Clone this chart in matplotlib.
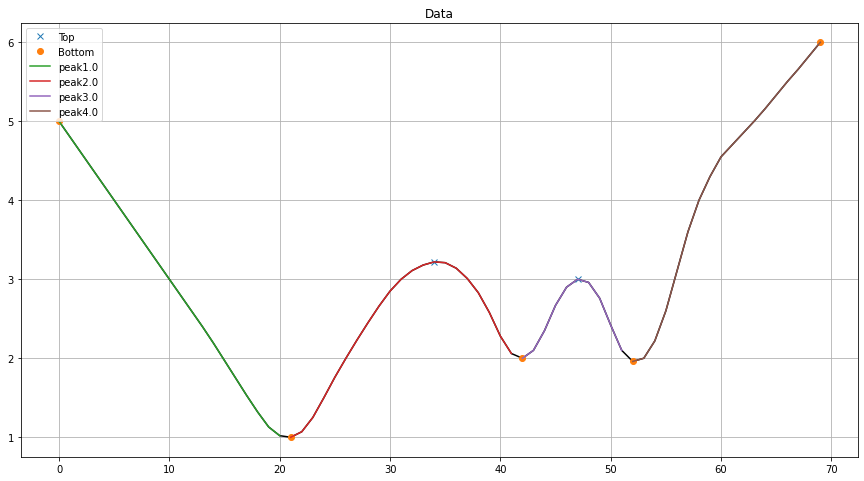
import numpy as np
import matplotlib
matplotlib.use('Agg')
import matplotlib.pyplot as plt

# serie completa
x = np.arange(0, 70)
y = [5.0, 4.8, 4.6, 4.4, 4.2, 4.0, 3.8, 3.6, 3.4, 3.2,
     3.0, 2.8, 2.6, 2.4, 2.19, 1.97, 1.75, 1.53, 1.32, 1.13,
     1.02, 1.0, 1.07, 1.25, 1.5, 1.76, 2.0, 2.23, 2.45, 2.66,
     2.85, 3.0, 3.11, 3.18, 3.22, 3.21, 3.14, 3.01, 2.83, 2.58,
     2.28, 2.06, 2.0, 2.1, 2.35, 2.67, 2.9, 3.0, 2.96, 2.76,
     2.42, 2.1, 1.96, 2.0, 2.22, 2.6, 3.1, 3.6, 4.0, 4.3,
     4.55, 4.7, 4.85, 5.0, 5.16, 5.33, 5.5, 5.66, 5.83, 6.0]
y = np.array(y)

# picos y valles
tops = [34, 47]
bottoms = [0, 21, 42, 52, 69]

# tramos de cada pico (inicio, fin)
peak_ids = [1.0, 2.0, 3.0, 4.0]
peak_start = [0, 21, 42, 52]
peak_end = [20, 41, 51, 69]

fig = plt.figure(figsize=(12, 6.694), dpi=72)
ax = fig.add_subplot(111)
fig.subplots_adjust(left=0.0243, right=0.9935, top=0.9512, bottom=0.0498)

ax.plot(x, y, color='k')
ax.plot(x[tops], y[tops], 'x', label='Top')
ax.plot(x[bottoms], y[bottoms], 'o', label='Bottom')
for pid, s, e in zip(peak_ids, peak_start, peak_end):
    ax.plot(x[s:e + 1], y[s:e + 1], label='peak' + str(pid))

ax.set_title('Data')
ax.grid(True)
ax.legend(loc='upper left')

fig.savefig('out.png', dpi=72)
